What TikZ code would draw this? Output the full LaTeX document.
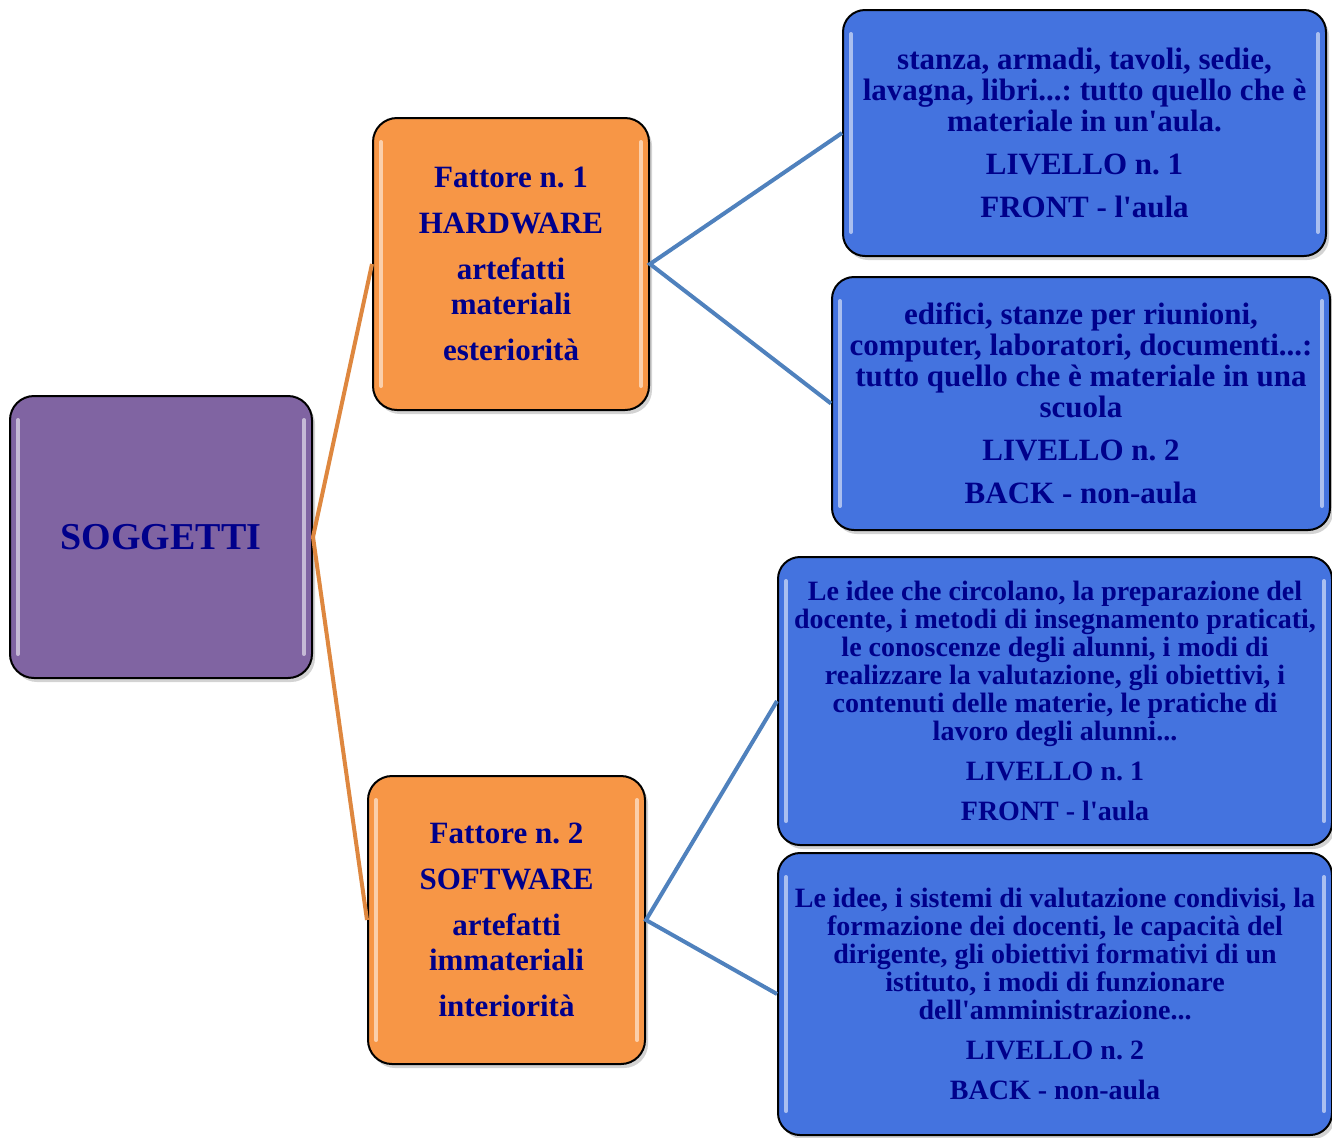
\documentclass[tikz,border=0pt]{standalone}
\usepackage{fontspec}
\setmainfont{Liberation Serif}[Ligatures=TeXOff]
\usetikzlibrary{shadows}

\definecolor{txtblue}{HTML}{00008B}
\definecolor{lilla}{HTML}{8064A2}
\definecolor{arancio}{HTML}{F79646}
\definecolor{azzurro}{HTML}{4473DF}
\definecolor{linkblue}{HTML}{4F81BD}

\tikzset{
  lucido/.style={draw=black, line width=1pt, rounded corners=12pt, align=center,
    text=txtblue, font=\bfseries, inner sep=0pt,
    drop shadow={opacity=0.35, shadow xshift=1.5pt, shadow yshift=-2pt},
    path picture={
      \draw[white, opacity=0.55, line width=2pt, line cap=round]
        ([xshift=4pt,yshift=-12pt]path picture bounding box.north west) --
        ([xshift=4pt,yshift=12pt]path picture bounding box.south west);
      \draw[white, opacity=0.55, line width=2pt, line cap=round]
        ([xshift=-4pt,yshift=-12pt]path picture bounding box.north east) --
        ([xshift=-4pt,yshift=12pt]path picture bounding box.south east);
    }},
  radice/.style={lucido, fill=lilla},
  fattore/.style={lucido, fill=arancio, font=\bfseries\fontsize{15.5}{17.5}\selectfont},
  livello/.style={lucido, fill=azzurro, rounded corners=11pt},
  ramo/.style={line width=2pt, arancio!90!black},
  foglia/.style={line width=2pt, linkblue}
}

\begin{document}
\frenchspacing
\begin{tikzpicture}[x=0.5pt,y=-0.5pt]
  \useasboundingbox (0,0) rectangle (1332,1137);

  % radice
  \node[radice, minimum width=151pt, minimum height=141pt,
        font=\bfseries\fontsize{19}{23}\selectfont] (sogg) at (161,537) {SOGGETTI};

  % i due fattori
  \node[fattore, minimum width=138pt, minimum height=146pt] (hw) at (511,264)
    {Fattore n. 1\\[5.5pt] HARDWARE\\[5.5pt] artefatti\\ materiali\\[5.5pt] esteriorità};
  \node[fattore, minimum width=138.5pt, minimum height=144pt] (sw) at (506.5,920)
    {Fattore n. 2\\[5.5pt] SOFTWARE\\[5.5pt] artefatti\\ immateriali\\[5.5pt] interiorità};

  % livelli
  \node[livello, minimum width=241.5pt, minimum height=123pt,
        font=\bfseries\fontsize{15.5}{15.5}\selectfont] (hwa) at (1084.5,133)
    {stanza, armadi, tavoli, sedie,\\ lavagna, libri...: tutto quello che è\\ materiale in un'aula.\\[6pt]
     LIVELLO n. 1\\[6pt] FRONT - l'aula};
  \node[livello, minimum width=249pt, minimum height=126.5pt,
        font=\bfseries\fontsize{15.5}{15.5}\selectfont] (hwb) at (1081,403.5)
    {edifici, stanze per riunioni,\\ computer, laboratori, documenti...:\\ tutto quello che è materiale in una\\ scuola\\[6pt]
     LIVELLO n. 2\\[6pt] BACK - non-aula};
  \node[livello, minimum width=277pt, minimum height=144pt,
        font=\bfseries\fontsize{14}{14}\selectfont] (swa) at (1055,701)
    {Le idee che circolano, la preparazione del\\ docente, i metodi di insegnamento praticati,\\
     le conoscenze degli alunni, i modi di\\ realizzare la valutazione, gli obiettivi, i\\
     contenuti delle materie, le pratiche di\\ lavoro degli alunni...\\[6pt]
     LIVELLO n. 1\\[6pt] FRONT - l'aula};
  \node[livello, minimum width=277pt, minimum height=141pt,
        font=\bfseries\fontsize{14}{14}\selectfont] (swb) at (1055,994)
    {Le idee, i sistemi di valutazione condivisi, la\\ formazione dei docenti, le capacità del\\
     dirigente, gli obiettivi formativi di un\\ istituto, i modi di funzionare\\ dell'amministrazione...\\[6pt]
     LIVELLO n. 2\\[6pt] BACK - non-aula};

  % collegamenti
  \draw[ramo] (hw.west) -- (sogg.east) -- (sw.west);
  \draw[foglia] (hwa.west) -- (hw.east) -- (hwb.west);
  \draw[foglia] (swa.west) -- (sw.east) -- (swb.west);
\end{tikzpicture}
\end{document}
